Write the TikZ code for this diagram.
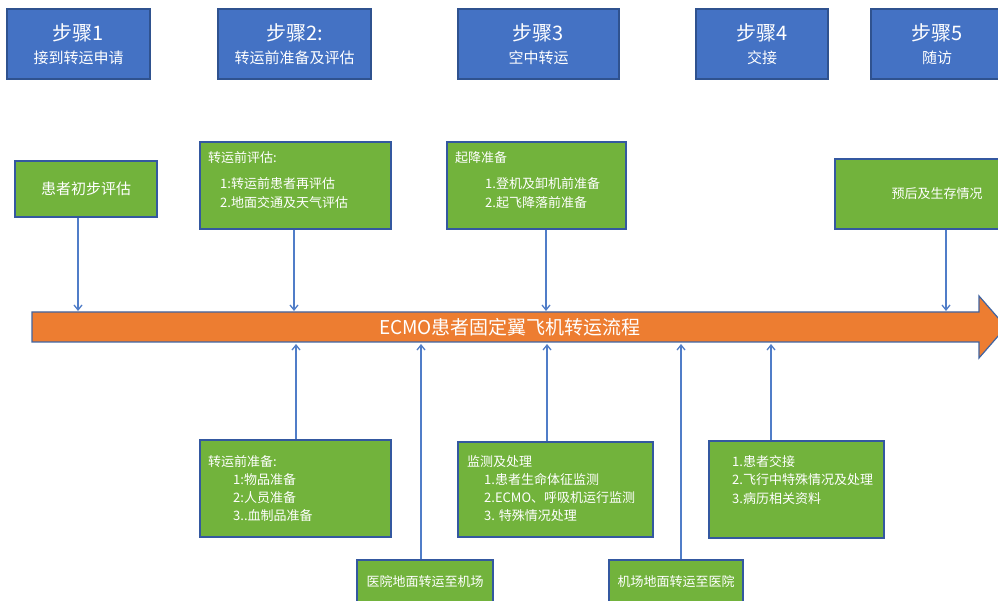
\documentclass[tikz,border=0pt]{standalone}
\usepackage{fontspec}
\newfontfamily\cjk{Noto Sans CJK SC}
\usetikzlibrary{arrows.meta,fit}
\definecolor{stepblue}{RGB}{68,114,196}
\definecolor{stepedge}{RGB}{47,82,143}
\definecolor{boxgreen}{RGB}{114,179,60}
\definecolor{boxedge}{RGB}{52,88,160}
\definecolor{flowor}{RGB}{237,125,49}
\definecolor{flowedge}{RGB}{65,100,160}
\definecolor{connblue}{RGB}{80,125,200}
\begin{document}
\begin{tikzpicture}[x=1pt,y=-1pt,
  stepbox/.style={draw=stepedge, fill=stepblue, line width=1.2pt, inner sep=0pt},
  steptext/.style={inner sep=0pt, text=white, font=\cjk\fontsize{15}{23}\selectfont, align=center},
  gbox/.style={draw=boxedge, fill=boxgreen, line width=1.2pt, inner sep=0pt},
  gtext/.style={inner sep=0pt, anchor=north west, align=left, text=white, font=\cjk\fontsize{13}{18.5}\selectfont},
  conn/.style={draw=connblue, line width=1.3pt, -{Straight Barb[length=5pt,width=8pt]}},
]
\clip (0,0) rectangle (998,601);
\fill[white] (0,0) rectangle (998,601);

% step boxes
\node[stepbox, fit={(7,9) (150,79)}] (s1) {};
\node[steptext] (s1t) at (s1.center) {{\fontsize{20}{23}\selectfont 步骤1}\\接到转运申请};
\node[stepbox, fit={(218,9) (371,79)}] (s2) {};
\node[steptext] (s2t) at (s2.center) {{\fontsize{20}{23}\selectfont 步骤2:}\\转运前准备及评估};
\node[stepbox, fit={(458,9) (619,79)}] (s3) {};
\node[steptext] (s3t) at (s3.center) {{\fontsize{20}{23}\selectfont 步骤3}\\空中转运};
\node[stepbox, fit={(696,9) (828,79)}] (s4) {};
\node[steptext] (s4t) at (s4.center) {{\fontsize{20}{23}\selectfont 步骤4}\\交接};
\node[stepbox, fit={(871,9) (1003,79)}] (s5) {};
\node[steptext] (s5t) at (s5.center) {{\fontsize{20}{23}\selectfont 步骤5}\\随访};

% top green boxes
\node[gbox, fit={(15,161) (157,217)}] (g1) {};
\node[gtext, anchor=center, font=\cjk\fontsize{15}{18}\selectfont] (g1t) at (g1.center) {患者初步评估};
\node[gbox, fit={(200,142) (391,229)}] (g2) {};
\node[gtext] (g2t) at (208,151) {转运前评估:\\[8pt]\hspace*{12pt}1:转运前患者再评估\\\hspace*{12pt}2.地面交通及天气评估};
\node[gbox, fit={(447,142) (626,229)}] (g3) {};
\node[gtext] (g3t) at (455,151) {起降准备\\[8pt]\hspace*{30pt}1.登机及卸机前准备\\\hspace*{30pt}2.起飞降落前准备};
\node[gbox, fit={(835,159) (1039,229)}] (g4) {};
\node[gtext, anchor=center] (g4t) at (g4.center) {预后及生存情况};

% bottom green boxes
\node[gbox, fit={(200,440) (391,537)}] (g5) {};
\node[gtext, font=\cjk\fontsize{13}{18.2}\selectfont] (g5t) at (208,455) {转运前准备:\\\hspace*{25pt}1:物品准备\\\hspace*{25pt}2:人员准备\\\hspace*{25pt}3..血制品准备};
\node[gbox, fit={(458,442) (653,537)}] (g6) {};
\node[gtext, font=\cjk\fontsize{13}{18.3}\selectfont] (g6t) at (467,455) {监测及处理\\\hspace*{17pt}1.患者生命体征监测\\\hspace*{17pt}2.ECMO、呼吸机运行监测\\\hspace*{17pt}3. 特殊情况处理};
\node[gbox, fit={(709,441) (884,538)}] (g7) {};
\node[gtext] (g7t) at (732,455) {1.患者交接\\2.飞行中特殊情况及处理\\3.病历相关资料};
\node[gbox, fit={(357,560) (493,604)}] (g8) {};
\node[gtext, anchor=center] (g8t) at (g8.center) {医院地面转运至机场};
\node[gbox, fit={(609,560) (743,604)}] (g9) {};
\node[gtext, anchor=center] (g9t) at (g9.center) {机场地面转运至医院};

% main flow arrow
\filldraw[fill=flowor, draw=flowedge, line width=1.2pt] (32,312) -- (979,312) -- (979,296) -- (1006,327) -- (979,358) -- (979,342) -- (32,342) -- cycle;
\node[text=white, font=\cjk\fontsize{19}{19}\selectfont, inner sep=0pt] (flow) at (510,327) {ECMO患者固定翼飞机转运流程};

\coordinate (d1) at (78,311);
\coordinate (d2) at (294,311);
\coordinate (d3) at (546,311);
\coordinate (d4) at (946,311);
\coordinate (u1) at (296,344);
\coordinate (u2) at (421,344);
\coordinate (u3) at (547,344);
\coordinate (u4) at (681,344);
\coordinate (u5) at (771,344);

\draw[conn] (g1.south -| d1) -- (d1);
\draw[conn] (g2.south -| d2) -- (d2);
\draw[conn] (g3.south -| d3) -- (d3);
\draw[conn] (g4.south -| d4) -- (d4);
\draw[conn] (g5.north -| u1) -- (u1);
\draw[conn] (g8.north -| u2) -- (u2);
\draw[conn] (g6.north -| u3) -- (u3);
\draw[conn] (g9.north -| u4) -- (u4);
\draw[conn] (g7.north -| u5) -- (u5);
\end{tikzpicture}
\end{document}
